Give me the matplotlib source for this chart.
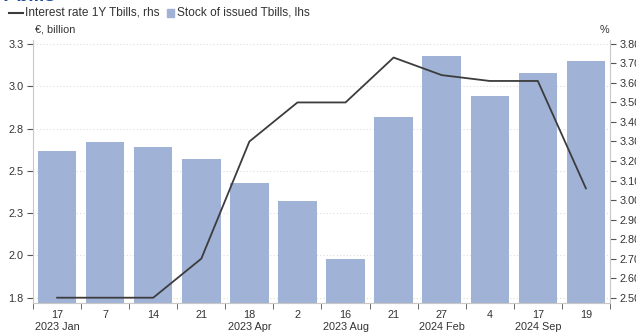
import matplotlib

matplotlib.use("Agg")
import matplotlib.pyplot as plt  # noqa: E402
import numpy as np  # noqa: E402

# data
days = ["17", "7", "14", "21", "18", "2", "16", "21", "27", "4", "17", "19"]
periods = ["2023 Jan", "", "", "", "2023 Apr", "", "2023 Aug", "", "2024 Feb", "", "2024 Sep", ""]
stock = [2.62, 2.67, 2.64, 2.57, 2.43, 2.32, 1.98, 2.82, 3.18, 2.94, 3.08, 3.15]
rate = [2.50, 2.50, 2.50, 2.70, 3.30, 3.50, 3.50, 3.73, 3.64, 3.61, 3.61, 3.06]

left_ticks = [1.75, 2.0, 2.25, 2.5, 2.75, 3.0, 3.25]
left_labels = ["1.8", "2.0", "2.3", "2.5", "2.8", "3.0", "3.3"]
right_ticks = [2.5 + 0.1 * i for i in range(14)]

BAR = "#a0b2d6"
LINE = "#3c3c3c"
TXT = "#333333"
SPINE = "#c8c8c8"

plt.rcParams["font.family"] = ["Liberation Sans", "DejaVu Sans"]
plt.rcParams["font.size"] = 7.8

fig = plt.figure(figsize=(6.36, 3.33), dpi=100)
ax = fig.add_axes([0.052, 0.089, 0.907, 0.791])
x = np.arange(len(days))

ax.bar(x, stock, width=0.8, color=BAR, zorder=2)
ax.set_ylim(1.717, 3.274)
ax.set_xlim(-0.5, len(days) - 0.5)
ax.set_yticks(left_ticks)
ax.set_yticklabels(left_labels, color=TXT)
ax.grid(axis="y", color="#dddddd", ls=(0, (1, 2)), lw=0.8, zorder=0)

ax2 = ax.twinx()
ax2.plot(x, rate, color=LINE, lw=1.3, zorder=3)
ax2.set_ylim(2.471, 3.82)
ax2.set_yticks(right_ticks)
ax2.set_yticklabels([f"{v:.2f}" for v in right_ticks], color=TXT)

# category labels centred on bars, ticks on the boundaries
ax.set_xticks(x)
ax.set_xticklabels([f"{d}\n{p}" for d, p in zip(days, periods)], color=TXT, linespacing=1.2)
ax.tick_params(axis="x", which="major", length=0, pad=5)
ax.set_xticks(np.arange(-0.5, len(days), 1.0), minor=True)
ax.tick_params(axis="x", which="minor", length=4, color="#555555")

for a in (ax, ax2):
    a.spines["top"].set_visible(False)
    a.tick_params(axis="y", length=4, color="#555555", pad=3)
ax.spines["right"].set_visible(False)
ax2.spines["left"].set_visible(False)
ax2.spines["bottom"].set_visible(False)
ax.spines["left"].set_color(SPINE)
ax.spines["bottom"].set_color(SPINE)
ax2.spines["right"].set_color(SPINE)

fig.text(0.055, 0.895, "€, billion", color=TXT, ha="left", va="bottom")
fig.text(0.958, 0.895, "%", color=TXT, ha="right", va="bottom")

# title cut off at the top edge of the picture
fig.text(0.0, 1 - 0.8 / 333, "T-bills", color="#1f4e9c", fontsize=14, fontweight="bold",
         ha="left", va="baseline")

# legend line
fig.lines.append(plt.Line2D([0.014, 0.036], [0.961, 0.961], color=LINE, lw=1.5,
                            transform=fig.transFigure))
fig.text(0.039, 0.961, "Interest rate 1Y Tbills, rhs", color=TXT, fontsize=8.6,
         ha="left", va="center")
fig.patches.append(plt.Rectangle((0.262, 0.948), 0.012, 0.024, color=BAR,
                                 transform=fig.transFigure))
fig.text(0.278, 0.961, "Stock of issued Tbills, lhs", color=TXT, fontsize=8.6,
         ha="left", va="center")

fig.savefig("out.png", dpi=100)
